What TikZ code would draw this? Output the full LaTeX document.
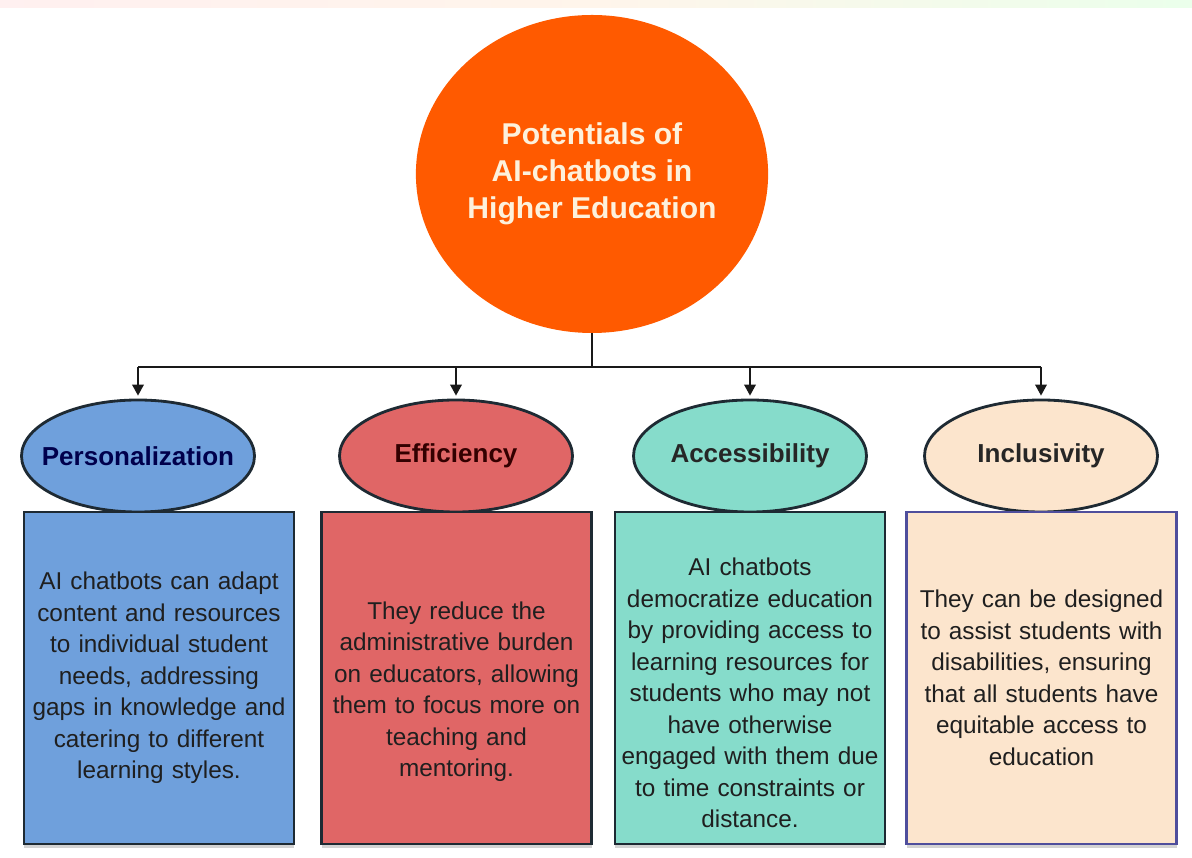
\documentclass[tikz,border=0pt]{standalone}
\usepackage{fontspec}
\setmainfont{Liberation Sans}
\usetikzlibrary{positioning,shapes.geometric,arrows.meta,shadows}

\definecolor{rootorange}{HTML}{FF5A00}
\definecolor{rootink}{HTML}{FDF1DC}
\definecolor{persblue}{HTML}{6FA0DC}
\definecolor{effred}{HTML}{E06666}
\definecolor{accteal}{HTML}{86DCCB}
\definecolor{inclcream}{HTML}{FCE5CD}
\definecolor{inclborder}{HTML}{4F4E9C}
\definecolor{edgeink}{HTML}{1E2A33}

\newcommand{\pillartext}[1]{\makebox[0pt]{#1}}
\newcommand{\droptext}[1]{\rule{0pt}{#1}}

\tikzset{
	rootnode/.style={ellipse,fill=rootorange,text=rootink,inner sep=0pt,
		minimum width=7.5cm,minimum height=7.95cm,align=center,
		font=\fontsize{21.4}{26.2}\selectfont\bfseries},
	pillar/.style={ellipse,draw=edgeink,line width=2pt,inner sep=0pt,
		minimum width=5.825cm,minimum height=2.8cm,
		font=\fontsize{18.5}{22}\selectfont\bfseries},
	descbox/.style={rectangle,draw=edgeink,line width=2pt,inner sep=0pt,
		minimum width=6.75cm,minimum height=8.3cm,text width=6.7cm,align=center,
		text=black!88,font=\fontsize{17.3}{22.4}\selectfont,
		drop shadow={opacity=0.35,shadow xshift=0pt,shadow yshift=-2.5pt}},
	link/.style={draw=black!90,line width=2pt},
	linkarrow/.style={link,-{Triangle[length=8pt,width=8pt]}}
}

\begin{document}
\begin{tikzpicture}
	\useasboundingbox (0,0) rectangle (29.8,21.425);
	\shade[left color=red!6,right color=green!8,middle color=orange!8] (0,21.225) rectangle (29.8,21.425);
	%% root
	\node[rootnode] (root) at (14.8,17.075) {Potentials of\\AI-chatbots in\\Higher Education};
	%% pillars
	\node[pillar,fill=persblue,text=blue!30!black] (pers) at (3.45,10.025) {\pillartext{Personalization}};
	\node[pillar,fill=effred,text=red!20!black] (eff) at (11.4,10.025) {\pillartext{Efficiency}};
	\node[pillar,fill=accteal,text=black!85] (acc) at (18.75,10.025) {\pillartext{Accessibility}};
	\node[pillar,fill=inclcream,text=black!85] (incl) at (26.025,10.025) {\pillartext{Inclusivity}};
	%% boxes
	\node[descbox,fill=persblue,below=-2pt of pers,xshift=0.525cm] (persbox)
		{AI chatbots can adapt\\content and resources\\to individual student\\needs, addressing\\gaps in knowledge and\\catering to different\\learning styles.};
	\node[descbox,fill=effred,below=-2pt of eff,xshift=0.0125cm] (effbox)
		{\droptext{1.12cm}They reduce the\\administrative burden\\on educators, allowing\\them to focus more on\\teaching and\\mentoring.};
	\node[descbox,fill=accteal,below=-2pt of acc] (accbox)
		{\droptext{1.2cm}AI chatbots\\democratize education\\by providing access to\\learning resources for\\students who may not\\have otherwise\\engaged with them due\\to time constraints or\\distance.};
	\node[descbox,fill=inclcream,draw=inclborder,below=-2pt of incl,xshift=0.0125cm] (inclbox)
		{They can be designed\\to assist students with\\disabilities, ensuring\\that all students have\\equitable access to\\education};
	% 连线
	\coordinate (bus) at (14.8,12.25);
	\draw[link] (root.south) -- (bus);
	\draw[link] (pers |- bus) -- (incl |- bus);
	\foreach \p in {pers,eff,acc,incl}
		\draw[linkarrow] (\p |- bus) -- ([yshift=2pt]\p.north);
\end{tikzpicture}
\end{document}
